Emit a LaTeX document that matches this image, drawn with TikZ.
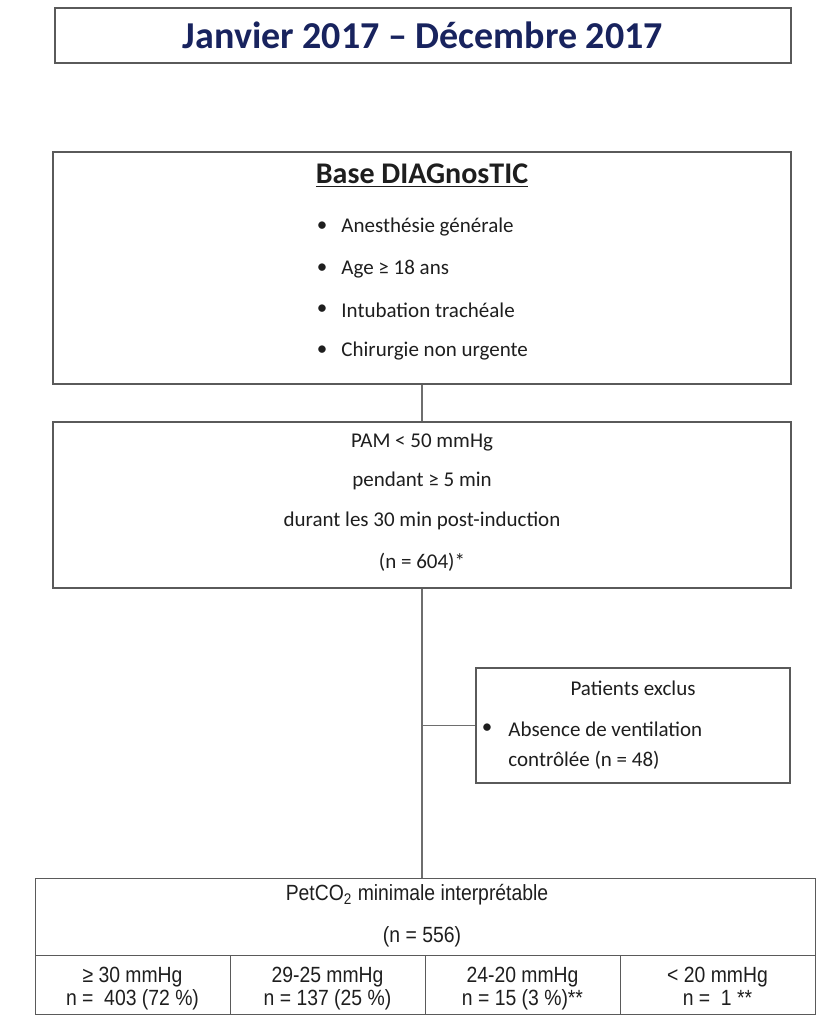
\documentclass[tikz,border=0pt]{standalone}
\usepackage{fontspec}
\setmainfont{Carlito}
\newfontfamily\narrowfont[FakeStretch=0.88]{Liberation Sans}
\usetikzlibrary{positioning}
\newcommand\hautcell{\rule{0pt}{13pt}}

\begin{document}
\begin{tikzpicture}[x=0.5pt, y=-0.5pt, font=\fontsize{10.5}{12}\selectfont,
  box/.style={draw=boxline, line width=0.6pt, inner sep=0pt},
  link/.style={draw=linkgray, line width=0.6pt},
  cell/.style={draw=boxline, line width=0.5pt, minimum width=97.5pt, minimum height=29.5pt, inner sep=0pt, align=center, font=\narrowfont\fontsize{11}{11.5}\selectfont}]
\definecolor{navy}{HTML}{18235E}
\definecolor{boxline}{HTML}{5A5A5A}
\definecolor{linkgray}{HTML}{6E6E6E}
\definecolor{ink}{HTML}{1E1E1E}
\useasboundingbox (0,0) rectangle (815,1016);
% titre
\node[box, minimum width=368pt, minimum height=27.5pt, text=navy, font=\bfseries\fontsize{19}{21}\selectfont] (titre) at (423,35.5) {Janvier 2017 -- Décembre 2017};
% base DIAGnosTIC
\node[box, minimum width=369pt, minimum height=116pt] (base) at (422,268) {};
\node[text=ink, font=\bfseries\fontsize{15}{17}\selectfont] (basetxt) at (422,176) {\underline{Base DIAGnosTIC}};
\foreach \y/\t [count=\i] in {227/Anesthésie générale, 269/Age ≥ 18 ans, 310/Intubation trachéale, 351/Chirurgie non urgente}{
  \node[text=ink] (puce\i) at (322,\y) {\textbullet};
  \node[anchor=west, text=ink, inner sep=0pt] (crit\i) at (341,\y) {\t};
}
% PAM
\node[box, minimum width=369pt, minimum height=83pt] (pam) at (422,505) {};
\foreach \y/\t [count=\i] in {442/PAM < 50 mmHg, 481/pendant ≥ 5 min, 521/durant les 30 min post-induction, 562/(n = 604)*}{
  \node[text=ink] (pamtxt\i) at (422,\y) {\t};
}
% exclus
\node[box, minimum width=157pt, minimum height=57.5pt] (excl) at (633,725.5) {};
\node[text=ink] (excltit) at (633,688) {Patients exclus};
\node[text=ink] (exclpuce) at (487,729) {\textbullet};
\node[anchor=west, text=ink, inner sep=0pt] (excl1) at (508,729) {Absence de ventilation};
\node[anchor=west, text=ink, inner sep=0pt] (excl2) at (508,760) {contrôlée (n = 48)};
% PetCO2
\node[cell, minimum width=390pt, minimum height=38.5pt] (petco) at (425,916.5) {};
\node[text=ink, font=\narrowfont\fontsize{11}{11.5}\selectfont] (petco1) at (417,895) {PetCO\textsubscript{2} minimale interprétable};
\node[text=ink, font=\narrowfont\fontsize{11}{11.5}\selectfont] (petco2) at (422,937) {(n = 556)};
\node[cell, text=ink] (c1) at (132.5,984.5) {\hautcell≥ 30 mmHg\\\strut n = ~403 (72 \%)};
\node[cell, text=ink] (c2) at (327.5,984.5) {\hautcell 29-25 mmHg\\\strut n = 137 (25 \%)};
\node[cell, text=ink] (c3) at (522.5,984.5) {\hautcell 24-20 mmHg\\\strut n = 15 (3 \%)**};
\node[cell, text=ink] (c4) at (717.5,984.5) {\hautcell< 20 mmHg\\\strut n = ~1 **};
% liens
\draw[link] (base.south) -- (pam.north);
\draw[link] (pam.south) -- (pam.south |- petco.north);
\draw[link] (excl.west) -- (excl.west -| pam.south);
\end{tikzpicture}
\end{document}
